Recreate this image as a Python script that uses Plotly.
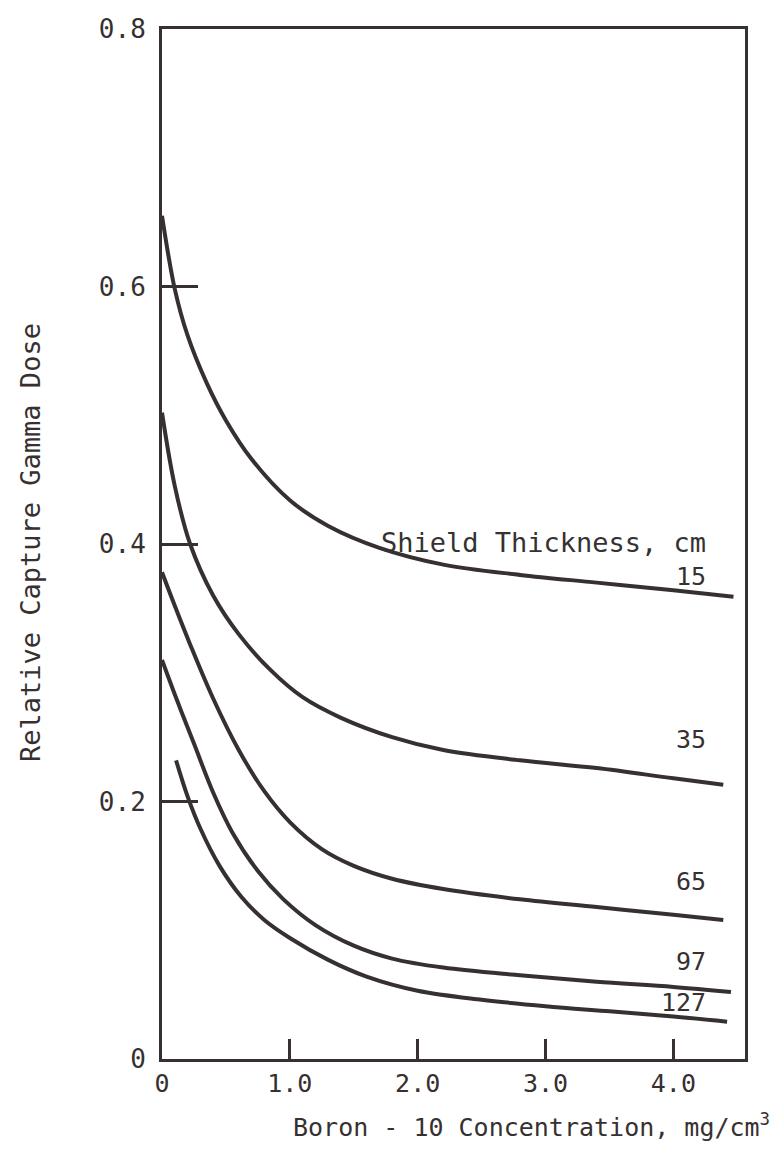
import plotly.graph_objects as go

# ---- data ----
thickness_labels = ["15", "35", "65", "97", "127"]

x15 = [0.0, 0.1, 0.2, 0.35, 0.5, 0.7, 1.0, 1.3, 1.7, 2.2, 2.8, 3.4, 4.0, 4.47]
y15 = [0.655, 0.598, 0.562, 0.525, 0.496, 0.466, 0.434, 0.414, 0.397, 0.384, 0.376, 0.370, 0.364, 0.359]

x35 = [0.0, 0.1, 0.22, 0.4, 0.6, 0.85, 1.1, 1.4, 1.8, 2.2, 2.8, 3.4, 4.0, 4.39]
y35 = [0.502, 0.445, 0.400, 0.360, 0.330, 0.302, 0.281, 0.265, 0.250, 0.240, 0.232, 0.226, 0.218, 0.213]

x65 = [0.0, 0.1, 0.22, 0.4, 0.6, 0.8, 1.0, 1.25, 1.5, 1.8, 2.2, 2.8, 3.4, 4.0, 4.39]
y65 = [0.378, 0.352, 0.322, 0.280, 0.240, 0.208, 0.184, 0.163, 0.150, 0.140, 0.132, 0.124, 0.118, 0.112, 0.108]

x97 = [0.0, 0.12, 0.25, 0.4, 0.55, 0.75, 0.95, 1.2, 1.5, 1.8, 2.2, 2.8, 3.4, 4.0, 4.45]
y97 = [0.310, 0.278, 0.245, 0.207, 0.176, 0.146, 0.124, 0.104, 0.088, 0.078, 0.071, 0.065, 0.060, 0.056, 0.052]

x127 = [0.11, 0.2, 0.3, 0.45, 0.62, 0.8, 1.0, 1.3, 1.6, 2.0, 2.5, 3.0, 3.5, 4.0, 4.42]
y127 = [0.232, 0.204, 0.179, 0.150, 0.126, 0.108, 0.094, 0.077, 0.064, 0.053, 0.046, 0.041, 0.037, 0.033, 0.029]

label_y = [0.375, 0.248, 0.1375, 0.0754, 0.0435]

x_tickvals = [0, 1, 2, 3, 4]
x_ticktext = ["0", "1.0", "2.0", "3.0", "4.0"]
y_tickvals = [0, 0.2, 0.4, 0.6, 0.8]
y_ticktext = ["0", "0.2", "0.4", "0.6", "0.8"]

ink = "#363130"
font_main = "DejaVu Sans Mono"

# page offset (body margin) compensation
OFF = 8
W, H = 783 - 2 * OFF, 1153 - 2 * OFF
L = 162 - OFF
T = 29 - OFF
R = W - (745 - OFF)
B = H - (1059 - OFF)
pw, ph = W - L - R, H - T - B

def px_to_paper(px, py):
    return (px - OFF - L) / pw, (H - B - (py - OFF)) / ph

fig = go.Figure()
for xs, ys in [(x15, y15), (x35, y35), (x65, y65), (x97, y97), (x127, y127)]:
    fig.add_trace(go.Scatter(x=xs, y=ys, mode="lines",
                             line=dict(color=ink, width=4, shape="spline", smoothing=1.0),
                             showlegend=False, hoverinfo="skip"))

for lab, ly in zip(thickness_labels, label_y):
    fig.add_annotation(x=4.27, y=ly, xref="x", yref="y", text=lab, showarrow=False,
                       xanchor="right", yanchor="middle",
                       font=dict(family=font_main, size=25, color=ink))

fig.add_annotation(x=4.27, y=0.401, xref="x", yref="y", text="Shield Thickness, cm",
                   showarrow=False, xanchor="right", yanchor="middle",
                   font=dict(family=font_main, size=27, color=ink))

xt, yt = px_to_paper(531, 1125)
fig.add_annotation(x=xt, y=yt, xref="paper", yref="paper",
                   text="Boron - 10 Concentration, mg/cm<sup>3</sup>", showarrow=False,
                   xanchor="center", yanchor="middle",
                   font=dict(family=font_main, size=25, color=ink))
xt, yt = px_to_paper(30, 543)
fig.add_annotation(x=xt, y=yt, xref="paper", yref="paper",
                   text="Relative Capture Gamma Dose", showarrow=False, textangle=-90,
                   xanchor="center", yanchor="middle",
                   font=dict(family=font_main, size=27, color=ink))

fig.update_xaxes(range=[0, 4.56], tickvals=x_tickvals, ticktext=x_ticktext,
                 ticks="inside", ticklen=20, tickwidth=3, tickcolor=ink,
                 showline=True, linecolor=ink, linewidth=3, mirror=True,
                 showgrid=False, zeroline=False,
                 tickfont=dict(family=font_main, size=25, color=ink))
fig.update_yaxes(range=[0, 0.8], tickvals=y_tickvals, ticktext=y_ticktext,
                 ticks="inside", ticklen=36, tickwidth=3, tickcolor=ink,
                 showline=True, linecolor=ink, linewidth=3, mirror=True,
                 showgrid=False, zeroline=False, ticklabelstandoff=8,
                 tickfont=dict(family=font_main, size=26, color=ink))

fig.update_layout(width=W, height=H, margin=dict(l=L, r=R, t=T, b=B, autoexpand=False),
                  paper_bgcolor="white", plot_bgcolor="white")

fig.write_html("out.html")
